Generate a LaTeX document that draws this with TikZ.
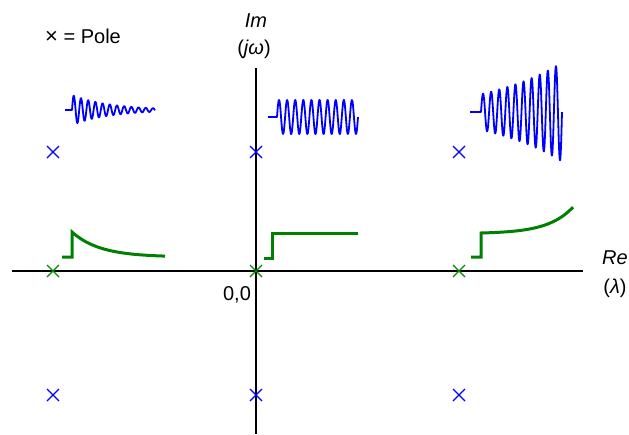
\documentclass[tikz,border=0pt]{standalone}
\usepackage{fontspec}
\setmainfont{Liberation Sans}
\usetikzlibrary{calc}
\begin{document}
\begin{tikzpicture}[x=1pt,y=-1pt,
  axis/.style={black,line width=1.3pt},
  pole/.style={line width=1.2pt},
  bluewave/.style={blue,line width=1.8pt,line join=round},
  greenwave/.style={green!50!black,line width=3pt,line join=miter},
  lbl/.style={font=\fontsize{20}{22}\selectfont,inner sep=0pt}]
\useasboundingbox (0,0) rectangle (629,434);
% axes
\coordinate (xl) at (12,271);
\coordinate (xr) at (583,271);
\coordinate (yt) at (256,68);
\coordinate (yb) at (256,434);
\draw[axis] (xl) -- (xr);
\draw[axis] (yt) -- (yb);
% poles
\foreach \px/\py/\c [count=\i] in {53/152/blue,256/152/blue,459/152/blue,53/271/green!55!black,256/271/green!55!black,459/271/green!55!black,53/395/blue,256/395/blue,459/395/blue}{
  \coordinate (p\i) at (\px,\py);
  \draw[pole,\c] ($(p\i)+(-6,-6)$) -- ($(p\i)+(6,6)$) ($(p\i)+(-6,6)$) -- ($(p\i)+(6,-6)$);
}
% labels
\node[lbl,anchor=west] (legend) at (45,36) {\raisebox{-0.3pt}{\fontsize{22}{22}\selectfont ×} = Pole};
\node[lbl] (im) at (256,21) {\itshape Im};
\node[lbl] (jw) at (254,49) {(\textit{jω})};
\node[lbl] (re) at (615,258) {\itshape Re};
\node[lbl] (lam) at (615,288) {(\textit{λ})};
\node[lbl] (origin) at (237,295) {0,0};
% blue waveforms
\draw[bluewave] (65,110) -- (72,110)
  -- plot[domain=0:83,samples=300,smooth] ({72+\x},{110-15*exp(-\x/38)*sin(\x/7.2*360)});
\draw[bluewave] (268,117) -- (277,117)
  -- plot[domain=0:81,samples=300,smooth] ({277+\x},{117-17*sin(\x/8.1*360)});
\draw[bluewave] (470,112) -- (481,112)
  -- plot[domain=0:81,samples=300,smooth] ({481+\x},{112-18*exp(\x/80)*sin(\x/8.1*360)});
% green waveforms
\draw[greenwave] (62,257) -- (72,257) -- (72,232)
  -- plot[domain=0:93,samples=80,smooth] ({72+\x},{257-25*exp(-\x/28)});
\draw[greenwave] (264,258) -- (272,258) -- (272,233) -- (358,233);
\draw[greenwave] (471,257) -- (481,257) -- (481,233)
  -- plot[domain=0:92,samples=80,smooth] ({481+\x},{233-0.67*(exp(\x/25)-1)});
\end{tikzpicture}
\end{document}
